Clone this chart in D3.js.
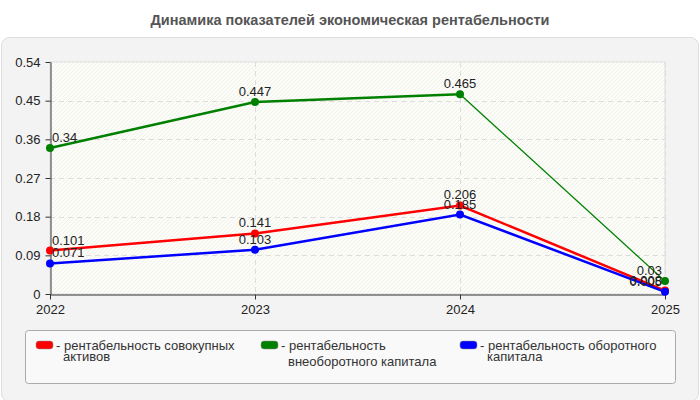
<!DOCTYPE html>
<html>
<head>
<meta charset="utf-8">
<script src="https://cdn.jsdelivr.net/npm/d3@7"></script>
<style>
  body { margin: 0; background: #fff; font-family: 'Liberation Sans', Arial, sans-serif; }
</style>
</head>
<body>
<div id="container"></div>
<script>
const years = [2022, 2023, 2024, 2025];
const yTicks = [0, 0.09, 0.18, 0.27, 0.36, 0.45, 0.54];
const totalAssets = [0.101, 0.141, 0.206, 0.008];
const fixedCapital = [0.34, 0.447, 0.465, 0.03];
const workingCapital = [0.071, 0.103, 0.185, 0.005];
const seriesNames = [
  ['рентабельность совокупных', 'активов'],
  ['рентабельность', 'внеоборотного капитала'],
  ['рентабельность оборотного', 'капитала']
];
const seriesColors = ['#ff0000', '#008000', '#0000ff'];

const w = 700;
const h = 400;
const margin = { left: 50, right: 35, top: 62, bottom: 106 };
const font = "'Liberation Sans', Arial, sans-serif";

const series = [totalAssets, fixedCapital, workingCapital].map((values, i) => ({
  name: seriesNames[i],
  color: seriesColors[i],
  values: values.map((v, j) => ({ year: years[j], value: v }))
}));

const xScale = d3
  .scalePoint()
  .domain(years)
  .range([margin.left, w - margin.right]);

const yScale = d3
  .scaleLinear()
  .domain([0, 0.54])
  .range([h - margin.bottom, margin.top]);

const svg = d3
  .select('#container')
  .append('svg')
  .attr('width', w)
  .attr('height', h);

const defs = svg.append('defs');
const hatch = defs
  .append('pattern')
  .attr('id', 'hatch')
  .attr('patternUnits', 'userSpaceOnUse')
  .attr('width', 4)
  .attr('height', 4);
hatch.append('rect').attr('width', 4).attr('height', 4).attr('fill', '#fdfdf8');
hatch
  .append('path')
  .attr('d', 'M-1,1 l2,-2 M0,4 l4,-4 M3,5 l2,-2')
  .attr('stroke', '#f0f0ee')
  .attr('stroke-width', 1);

// title
svg
  .append('text')
  .attr('x', w / 2)
  .attr('y', 25)
  .attr('text-anchor', 'middle')
  .style('font-size', '14.5px')
  .style('font-weight', 'bold')
  .style('fill', '#555')
  .text('Динамика показателей экономическая рентабельности');

// outer panel
svg
  .append('rect')
  .attr('x', 1.5)
  .attr('y', 37.5)
  .attr('width', w - 3)
  .attr('height', h - 36)
  .attr('rx', 8)
  .attr('fill', '#f3f3f3')
  .attr('stroke', '#dddddd');

const [x0, x1] = xScale.range();
const [yB, yT] = yScale.range();

svg
  .append('rect')
  .attr('x', x0)
  .attr('y', yT)
  .attr('width', x1 - x0)
  .attr('height', yB - yT)
  .attr('fill', 'url(#hatch)')
  .attr('stroke', '#dddddd');

// grid
svg
  .append('g')
  .selectAll('line')
  .data(yTicks.filter(d => d > 0 && d < 0.54))
  .enter()
  .append('line')
  .attr('x1', x0)
  .attr('x2', x1)
  .attr('y1', d => Math.round(yScale(d)) + 0.5)
  .attr('y2', d => Math.round(yScale(d)) + 0.5)
  .attr('stroke', '#dddddd')
  .attr('stroke-dasharray', '5,4');

svg
  .append('g')
  .selectAll('line')
  .data(years.slice(1))
  .enter()
  .append('line')
  .attr('x1', d => Math.round(xScale(d)) + 0.5)
  .attr('x2', d => Math.round(xScale(d)) + 0.5)
  .attr('y1', yT)
  .attr('y2', yB)
  .attr('stroke', '#dddddd')
  .attr('stroke-dasharray', '5,4');

// axes
const xAxis = d3.axisBottom(xScale).tickSize(5).tickSizeOuter(0);
svg
  .append('g')
  .attr('transform', `translate(0, ${yB + 0.5})`)
  .call(xAxis)
  .call(g => g.selectAll('.domain, line').attr('stroke', '#333'))
  .selectAll('text')
  .style('font-size', '13px')
  .style('fill', '#222')
  .style('font-family', font)
  .attr('y', 10);

const yAxis = d3
  .axisLeft(yScale)
  .tickValues(yTicks)
  .tickFormat(d => String(+d.toFixed(2)))
  .tickSize(5)
  .tickSizeOuter(0);
svg
  .append('g')
  .attr('transform', `translate(${x0 + 0.5}, 0)`)
  .call(yAxis)
  .call(g => g.selectAll('.domain, line').attr('stroke', '#333'))
  .selectAll('text')
  .style('font-size', '13px')
  .style('fill', '#222')
  .style('font-family', font)
  .attr('x', -10);

// lines
const line = d3
  .line()
  .x(d => xScale(d.year))
  .y(d => yScale(d.value));

series.forEach((s, si) => {
  // the green series draws its last segment thinner
  if (si === 1) {
    svg
      .append('path')
      .datum(s.values.slice(0, 3))
      .attr('d', line)
      .attr('fill', 'none')
      .attr('stroke', s.color)
      .attr('stroke-width', 2.5);
    svg
      .append('path')
      .datum(s.values.slice(2))
      .attr('d', line)
      .attr('fill', 'none')
      .attr('stroke', s.color)
      .attr('stroke-width', 1.3);
  } else {
    svg
      .append('path')
      .datum(s.values)
      .attr('d', line)
      .attr('fill', 'none')
      .attr('stroke', s.color)
      .attr('stroke-width', 2.5);
  }
});

series.forEach(s => {
  svg
    .append('g')
    .selectAll('circle')
    .data(s.values)
    .enter()
    .append('circle')
    .attr('cx', d => xScale(d.year))
    .attr('cy', d => yScale(d.value))
    .attr('r', 4)
    .attr('fill', s.color);
});

series.forEach(s => {
  svg
    .append('g')
    .selectAll('text')
    .data(s.values)
    .enter()
    .append('text')
    .attr('x', (d, i) => (i === 0 ? xScale(d.year) + 2 : i === years.length - 1 ? xScale(d.year) - 3 : xScale(d.year)))
    .attr('y', d => yScale(d.value) - 6)
    .attr('text-anchor', (d, i) => (i === 0 ? 'start' : i === years.length - 1 ? 'end' : 'middle'))
    .style('font-size', '13px')
    .style('fill', '#222')
    .text(d => d.value);
});

// legend
const legendTop = 330;
svg
  .append('rect')
  .attr('x', 25.5)
  .attr('y', legendTop + 0.5)
  .attr('width', 650)
  .attr('height', 53)
  .attr('rx', 3)
  .attr('fill', '#f9f9f9')
  .attr('stroke', '#aaaaaa');

const legendX = [36, 261, 460];
const secondLineY = [361, 366, 361];
series.forEach((s, i) => {
  const g = svg.append('g');
  g.append('rect')
    .attr('x', legendX[i])
    .attr('y', legendTop + 11)
    .attr('width', 17)
    .attr('height', 8)
    .attr('rx', 3)
    .attr('fill', s.color)
    .attr('stroke', '#888')
    .attr('stroke-width', 0.5);
  g.append('text')
    .attr('x', legendX[i] + 20)
    .attr('y', legendTop + 20)
    .style('font-size', '13px')
    .style('fill', '#333')
    .text('- ' + s.name[0]);
  g.append('text')
    .attr('x', legendX[i] + 27)
    .attr('y', secondLineY[i])
    .style('font-size', '13px')
    .style('fill', '#333')
    .text(s.name[1]);
});
</script>
</body>
</html>
